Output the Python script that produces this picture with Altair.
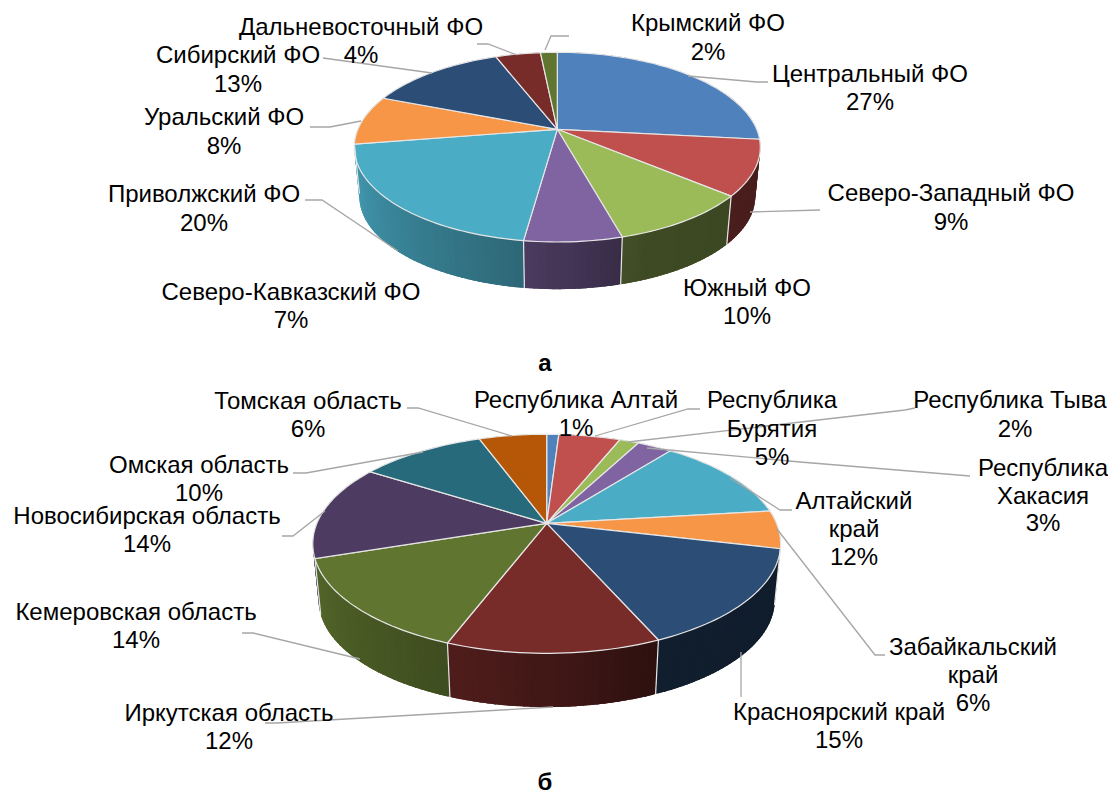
import math
import numpy as np
import altair as alt

# ---------- data ----------
top_values = [26.7, 9.4, 9.6, 6.5, 20.3, 8.4, 13.2, 4.3, 1.6]
top_colors = ["#4F81BD", "#C0504D", "#9BBB59", "#8064A2", "#4BACC6", "#F79646", "#2C4D75", "#772C2A", "#5F7530"]
bottom_values = [1.0, 5.1, 1.6, 2.9, 12.5, 5.6, 14.7, 12.4, 14.1, 14.1, 10.4, 5.6]
bottom_colors = ["#4F81BD", "#C0504D", "#9BBB59", "#8064A2", "#4BACC6", "#F79646", "#2C4D75", "#772C2A", "#5F7530", "#4D3B62", "#276A7C", "#B65708"]

top_labels = [
    (708, 24, "Крымский ФО"), (708, 53, "2%"),
    (870, 75, "Центральный ФО"), (870, 103, "27%"),
    (951, 194, "Северо-Западный ФО"), (951, 223, "9%"),
    (747, 289, "Южный ФО"), (747, 317, "10%"),
    (291, 293, "Северо-Кавказский ФО"), (291, 321, "7%"),
    (204, 195, "Приволжский ФО"), (204, 224, "20%"),
    (224, 118, "Уральский ФО"), (224, 147, "8%"),
    (238, 56, "Сибирский ФО"), (238, 85, "13%"),
    (361, 28, "Дальневосточный ФО"), (361, 56, "4%"),
]
bottom_labels = [
    (308, 402, "Томская область"), (308, 430, "6%"),
    (576, 401, "Республика Алтай"), (576, 429, "1%"),
    (772, 401, "Республика"), (772, 430, "Бурятия"), (772, 458, "5%"),
    (1010, 401, "Республика Тыва"), (1015, 430, "2%"),
    (1043, 469, "Республика"), (1043, 497, "Хакасия"), (1043, 524, "3%"),
    (854, 502, "Алтайский"), (854, 530, "край"), (854, 558, "12%"),
    (973, 648, "Забайкальский"), (973, 676, "край"), (973, 704, "6%"),
    (839, 713, "Красноярский край"), (839, 741, "15%"),
    (229, 714, "Иркутская область"), (229, 742, "12%"),
    (136, 613, "Кемеровская область"), (136, 641, "14%"),
    (147, 517, "Новосибирская область"), (147, 545, "14%"),
    (199, 466, "Омская область"), (199, 494, "10%"),
]
captions = [(545, 364, "а"), (545, 783, "б")]

leaders = [
    [(545, 50), (551, 36), (569, 36)],
    [(688, 76), (757, 82), (768, 82)],
    [(750, 212), (820, 210)],
    [(398, 251), (322, 200), (305, 200)],
    [(361, 121), (330, 127), (310, 127)],
    [(432, 73), (323, 58)],
    [(517, 55), (488, 44), (477, 44)],
    [(512, 436), (418, 408), (407, 408)],
    [(595, 436), (688, 409), (700, 409)],
    [(628, 442), (905, 410), (915, 408)],
    [(647, 448), (800, 462), (970, 476)],
    [(730, 478), (780, 510), (792, 510)],
    [(777, 529), (875, 655), (885, 655)],
    [(741, 652), (741, 697)],
    [(553, 707), (277, 723), (265, 723)],
    [(360, 659), (253, 633), (242, 633)],
    [(325, 511), (293, 536), (282, 536)],
    [(423, 452), (306, 473), (293, 473)],
]

# ---------- projection of a tilted disc ----------
PIES = [
    dict(values=top_values, colors=top_colors, cx=557.3, cy=129.3, R=199.4, S=91.5, k=0.188, d=50),
    dict(values=bottom_values, colors=bottom_colors, cx=546.7, cy=523.3, R=229.8, S=105.7, k=0.187, d=57),
]
SHRINK = 0.975


def rim(p, deg, lower=False):
    t = math.radians(deg)
    u, v = math.sin(t), math.cos(t)
    w = 1 + p["k"] * v
    dx, dy = p["R"] * u / w, -p["S"] * v / w
    if lower:
        return [p["cx"] + dx * SHRINK, p["cy"] + dy * SHRINK + p["d"]]
    return [p["cx"] + dx, p["cy"] + dy]


def shade(color, deg):
    f = float(np.interp(deg, [100, 160, 190, 260, 280], [0.37, 0.40, 0.62, 0.92, 0.95]))
    rgb = [int(color[i:i + 2], 16) for i in (1, 3, 5)]
    return "#" + "".join(f"{int(c * f):02x}" for c in rgb)


def poly(coords, fill, stroke, sw):
    c = coords + [coords[0]]
    return {"type": "Feature", "geometry": {"type": "Polygon", "coordinates": [c]},
            "properties": {"fill": fill, "stroke": stroke, "sw": sw}}


def line(coords):
    return {"type": "Feature", "geometry": {"type": "LineString", "coordinates": [list(c) for c in coords]},
            "properties": {}}


features = []
dividers = []
for p in PIES:
    start = 0.0
    walls, tops, divs = [], [], []
    total = sum(p["values"])
    for val, col in zip(p["values"], p["colors"]):
        end = start + val / total * 360
        n = max(2, int((end - start) / 1.5))
        a = np.linspace(start, end, n + 1)
        for a0, a1 in zip(a[:-1], a[1:]):
            mid = (a0 + a1) / 2
            c = shade(col, mid)
            # strips overlap their neighbours inside a slice so no seams show
            b0, b1 = max(start, a0 - 1.0), min(end, a1 + 1.0)
            walls.append((math.cos(math.radians(mid)),
                          poly([rim(p, b0), rim(p, b1), rim(p, b1, True), rim(p, b0, True)], c, c, 0)))
        tops.append(poly([[p["cx"], p["cy"]]] + [rim(p, x) for x in a], col, "#E6E6E6", 1.2))
        if 100 < end < 262:
            divs.append(line([rim(p, end), rim(p, end, True)]))
        start = end
    walls.sort(key=lambda w: -w[0])
    features += [w[1] for w in walls]
    features += tops
    dividers += divs

PROJ = dict(type="identity", scale=1, translate=[-8, -8])


def geo_data(feats):
    return alt.InlineData(values={"type": "FeatureCollection", "features": feats},
                          format=alt.DataFormat(property="features", type="json"))


faces = alt.Chart(geo_data(features)).mark_geoshape().encode(
    fill=alt.Fill("properties.fill:N", scale=None),
    stroke=alt.Stroke("properties.stroke:N", scale=None),
    strokeWidth=alt.StrokeWidth("properties.sw:Q", scale=None),
).project(**PROJ)

div_layer = alt.Chart(geo_data(dividers)).mark_geoshape(filled=False, stroke="#E6E6E6", strokeWidth=1.2).project(**PROJ)

lead_layer = alt.Chart(geo_data([line(l) for l in leaders])).mark_geoshape(
    filled=False, stroke="#A6A6A6", strokeWidth=1.3).project(**PROJ)

rows = [{"x": x, "y": y, "t": t} for x, y, t in top_labels + bottom_labels]
text_layer = alt.Chart(alt.Data(values=rows)).mark_text(
    font="Liberation Sans", fontSize=24, color="#000000", align="center", baseline="middle"
).encode(longitude="x:Q", latitude="y:Q", text="t:N").project(**PROJ)

cap_rows = [{"x": x, "y": y, "t": t} for x, y, t in captions]
cap_layer = alt.Chart(alt.Data(values=cap_rows)).mark_text(
    font="Liberation Sans", fontSize=24, fontWeight="bold", color="#000000", align="center", baseline="middle"
).encode(longitude="x:Q", latitude="y:Q", text="t:N").project(**PROJ)

chart = alt.layer(faces, div_layer, lead_layer, text_layer, cap_layer).properties(
    width=1100, height=783, padding=0, autosize=alt.AutoSizeParams(type="none"), background="white"
).configure_view(stroke=None)

chart.save("out.html", embed_options={"renderer": "svg", "actions": False})
